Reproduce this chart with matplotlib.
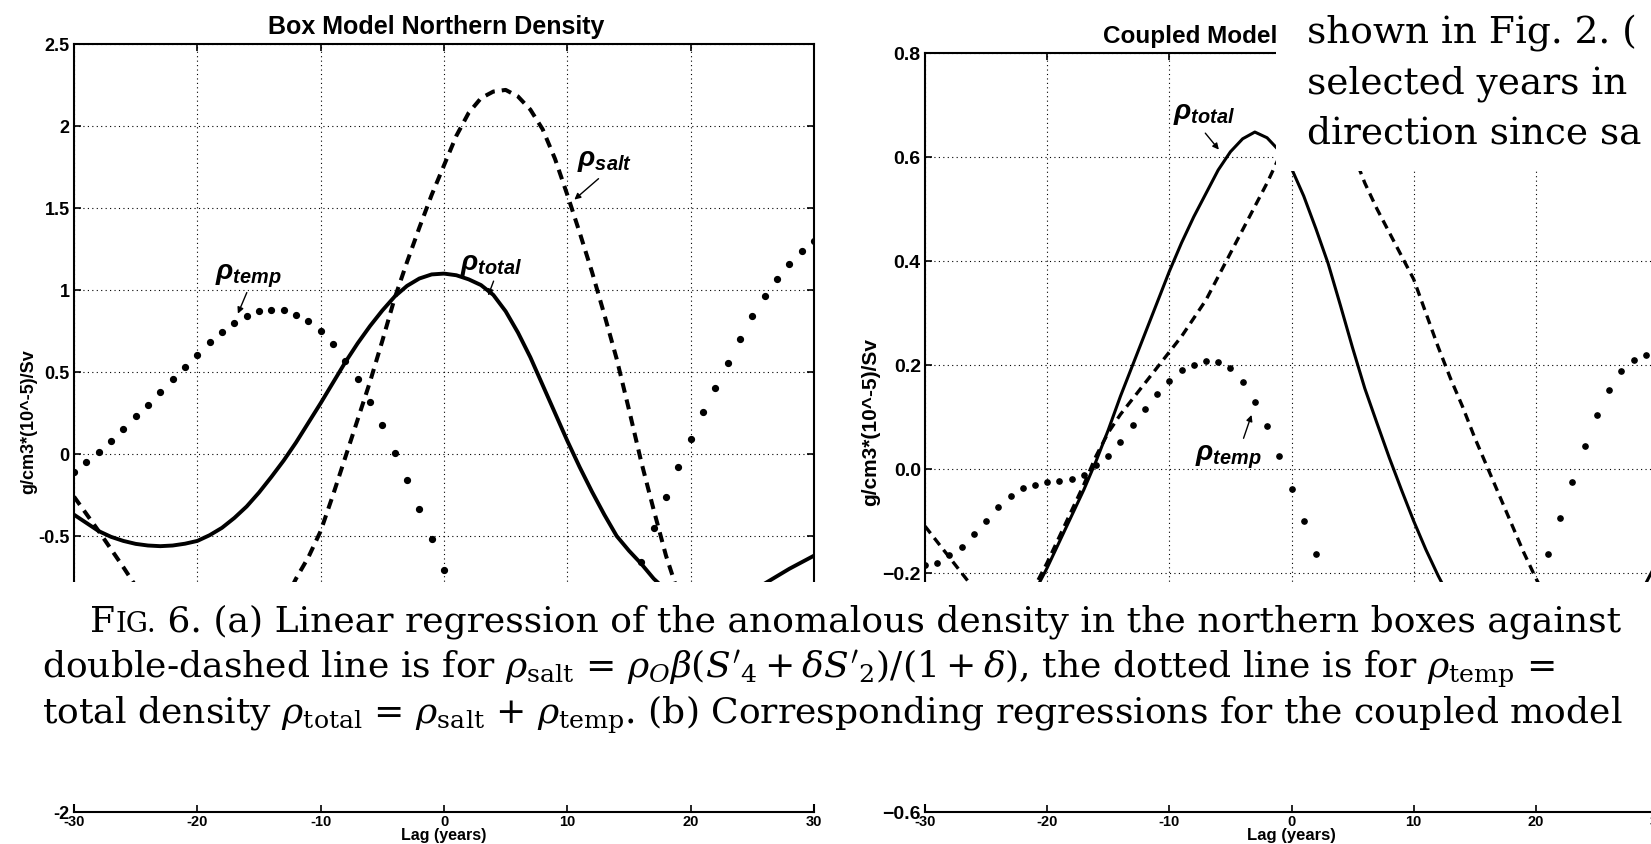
import matplotlib.pyplot as plt
from matplotlib.patches import Rectangle

W, H = 1651, 845

plt.rcParams['font.family'] = 'Liberation Sans'
plt.rcParams['axes.unicode_minus'] = False
plt.rcParams['mathtext.fontset'] = 'custom'
plt.rcParams['mathtext.it'] = 'Liberation Sans:italic:bold'
plt.rcParams['mathtext.rm'] = 'Liberation Sans:bold'
plt.rcParams['mathtext.bf'] = 'Liberation Sans:bold'

lags = list(range(-30, 31))
lag_ticks = [-30, -20, -10, 0, 10, 20, 30]
lag_labels = ['-30', '-20', '-10', '0', '10', '20', '30']

# (a) box model regressions, one value per year of lag
box_salt = [-0.26, -0.365, -0.47, -0.58, -0.69, -0.805, -0.92, -1.025, -1.12, -1.2,
            -1.26, -1.29, -1.30, -1.275, -1.22, -1.14, -1.04, -0.91, -0.76, -0.63,
            -0.47, -0.25, -0.02, 0.21, 0.44, 0.69, 0.95, 1.17, 1.38, 1.58,
            1.76, 1.94, 2.08, 2.17, 2.21, 2.22, 2.18, 2.10, 1.98, 1.80,
            1.58, 1.35, 1.11, 0.85, 0.58, 0.27, -0.05, -0.34, -0.62, -0.85,
            -1.05, -1.23, -1.38, -1.47, -1.52, -1.53, -1.5, -1.43, -1.34, -1.22,
            -1.08]
box_temp = [-0.108, -0.051, 0.01, 0.077, 0.15, 0.23, 0.30, 0.376, 0.457, 0.528,
            0.606, 0.68, 0.744, 0.80, 0.84, 0.87, 0.88, 0.876, 0.85, 0.81,
            0.75, 0.67, 0.57, 0.455, 0.32, 0.175, 0.008, -0.16, -0.335, -0.52,
            -0.71, -0.9, -1.07, -1.22, -1.35, -1.45, -1.52, -1.55, -1.55, -1.52,
            -1.46, -1.37, -1.25, -1.11, -0.96, -0.81, -0.66, -0.45, -0.264, -0.08,
            0.09, 0.254, 0.40, 0.557, 0.70, 0.84, 0.965, 1.065, 1.16, 1.236,
            1.30]
box_total = [-0.37, -0.42, -0.47, -0.505, -0.53, -0.548, -0.558, -0.562, -0.558, -0.547,
             -0.53, -0.495, -0.45, -0.39, -0.32, -0.235, -0.14, -0.04, 0.07, 0.19,
             0.31, 0.435, 0.56, 0.675, 0.78, 0.875, 0.96, 1.025, 1.07, 1.095,
             1.10, 1.09, 1.065, 1.03, 0.97, 0.87, 0.74, 0.59, 0.42, 0.25,
             0.08, -0.08, -0.23, -0.37, -0.50, -0.59, -0.67, -0.76, -0.83, -0.89,
             -0.93, -0.95, -0.95, -0.935, -0.90, -0.85, -0.79, -0.745, -0.70, -0.66,
             -0.62]
box_yticks = [-2, -1.5, -1, -0.5, 0, 0.5, 1, 1.5, 2, 2.5]
box_ylabels = ['-2', '-1.5', '-1', '-0.5', '0', '0.5', '1', '1.5', '2', '2.5']

# (b) coupled model regressions
cpl_salt = [-0.11, -0.14, -0.17, -0.2, -0.23, -0.255, -0.27, -0.27, -0.255, -0.225,
            -0.18, -0.13, -0.08, -0.03, 0.025, 0.07, 0.105, 0.135, 0.165, 0.195,
            0.225, 0.255, 0.29, 0.325, 0.37, 0.415, 0.46, 0.505, 0.55, 0.6,
            0.645, 0.68, 0.7, 0.69, 0.66, 0.61, 0.55, 0.5, 0.455, 0.41,
            0.365, 0.3, 0.235, 0.175, 0.12, 0.06, 0.005, -0.05, -0.105, -0.16,
            -0.21, -0.255, -0.295, -0.33, -0.355, -0.37, -0.375, -0.37, -0.355, -0.33,
            -0.3]
cpl_temp = [-0.185, -0.18, -0.165, -0.15, -0.125, -0.1, -0.073, -0.052, -0.037, -0.03,
            -0.025, -0.023, -0.02, -0.011, 0.008, 0.025, 0.052, 0.085, 0.115, 0.144,
            0.17, 0.19, 0.2, 0.208, 0.205, 0.194, 0.167, 0.129, 0.083, 0.025,
            -0.038, -0.1, -0.163, -0.23, -0.29, -0.33, -0.36, -0.4, -0.43, -0.46,
            -0.48, -0.49, -0.49, -0.48, -0.47, -0.45, -0.42, -0.38, -0.34, -0.29,
            -0.23, -0.163, -0.094, -0.025, 0.044, 0.104, 0.152, 0.188, 0.21, 0.22,
            0.225]
cpl_total = [-0.55, -0.56, -0.56, -0.545, -0.52, -0.48, -0.43, -0.375, -0.315, -0.235,
             -0.19, -0.14, -0.09, -0.04, 0.015, 0.075, 0.14, 0.2, 0.26, 0.32,
             0.38, 0.435, 0.485, 0.53, 0.575, 0.61, 0.635, 0.648, 0.637, 0.612,
             0.578, 0.525, 0.462, 0.395, 0.315, 0.233, 0.155, 0.088, 0.022, -0.04,
             -0.1, -0.155, -0.205, -0.25, -0.295, -0.335, -0.37, -0.4, -0.425, -0.44,
             -0.45, -0.452, -0.447, -0.433, -0.41, -0.38, -0.345, -0.305, -0.265, -0.22,
             -0.175]
cpl_yticks = [-0.6, -0.4, -0.2, 0, 0.2, 0.4, 0.6, 0.8]
cpl_ylabels = ['\u22120.6', '\u22120.4', '\u22120.2', '0.0', '0.2', '0.4', '0.6', '0.8']

fig = plt.figure(figsize=(W / 100, H / 100), dpi=100)


def px_axes(x0, x1, y_top, y_bot):
    return fig.add_axes([x0 / W, 1 - y_bot / H, (x1 - x0) / W, (y_bot - y_top) / H])


def style(ax, yticks, ylabels, fs, grid=True):
    ax.set_xlim(-30, 30)
    ax.set_xticks(lag_ticks)
    ax.set_xticklabels(lag_labels, fontsize=10.5, fontweight='bold')
    ax.set_yticks(yticks)
    ax.set_yticklabels(ylabels, fontsize=fs, fontweight='bold')
    if grid:
        ax.grid(True, color='black', linestyle=(0, (1, 3)), linewidth=0.8)
    ax.tick_params(direction='in', length=5, width=1.2, top=grid, right=True)
    ax.tick_params(axis='y', pad=3)
    ax.tick_params(axis='x', pad=1.5, labelbottom=not grid)
    for s in ax.spines.values():
        s.set_linewidth(1.5)


def arrow(ax, start, end):
    ax.annotate('', xy=end, xytext=start,
                arrowprops=dict(arrowstyle='-|>', lw=1.0, color='black', mutation_scale=9))


label_kw = dict(fontsize=20.5, math_fontfamily='custom', va='baseline', ha='left')
ylab = 'g/cm3*(10^-5)/Sv'

# ---- (a) Box model: plotting area plus the strip holding the bottom axis
ax1 = px_axes(74, 814, 45, 600)
ax1b = px_axes(74, 814, 789, 813)
for ax in (ax1, ax1b):
    style(ax, box_yticks, box_ylabels, 13, grid=ax is ax1)
    ax.plot(lags, box_total, color='black', lw=2.8)
    ax.plot(lags, box_salt, color='black', lw=2.9, dashes=(2.5, 1.75))
    ax.plot(lags, box_temp, 'o', color='black', ms=4.2, ls='none')
ax1.set_ylim(2.5 - 555 / 164, 2.5)
ax1b.set_ylim(-2, -2 + 24 / 164)
ax1.set_title('Box Model Northern Density', fontsize=18, fontweight='bold', pad=8, x=0.49)
ax1b.set_xlabel('Lag (years)', fontsize=11.5, fontweight='bold', labelpad=-1)
ax1.set_ylabel(ylab, fontsize=13, fontweight='bold')
ax1.yaxis.set_label_coords(-0.049, 0.322)
ax1.text(-18.6, 1.07, r'$\rho_{temp}$', **label_kw)
arrow(ax1, (-15.9, 1.0), (-16.8, box_temp[lags.index(-17)] + 0.04))
ax1.text(10.8, 1.76, r'$\rho_{salt}$', **label_kw)
arrow(ax1, (12.7, 1.69), (10.4, 1.54))
ax1.text(1.3, 1.13, r'$\rho_{total}$', **label_kw)
arrow(ax1, (4.1, 1.07), (3.5, 0.95))

# ---- (b) Coupled model
ax2 = px_axes(925, 1658, 54, 600)
ax2b = px_axes(925, 1658, 789, 813)
for ax in (ax2, ax2b):
    style(ax, cpl_yticks, cpl_ylabels, 14, grid=ax is ax2)
    ax.plot(lags, cpl_total, color='black', lw=2.2)
    ax.plot(lags, cpl_salt, color='black', lw=2.4, dashes=(2.7, 1.8))
    ax.plot(lags, cpl_temp, 'o', color='black', ms=3.8, ls='none')
ax2.set_ylim(0.8 - 546 / 520, 0.8)
ax2b.set_ylim(-0.6, -0.6 + 24 / 520)
ax2.set_title('Coupled Model', fontsize=17.5, fontweight='bold', pad=8, loc='left', x=0.243)
ax2b.set_xlabel('Lag (years)', fontsize=12, fontweight='bold', labelpad=-0.5)
ax2.set_ylabel(ylab, fontsize=15, fontweight='bold')
ax2.yaxis.set_label_coords(-0.061, 0.326)
ax2.text(-9.7, 0.675, r'$\rho_{total}$', **label_kw)
arrow(ax2, (-7.2, 0.65), (-5.8, 0.61))
ax2.text(-7.9, 0.019, r'$\rho_{temp}$', **label_kw)
arrow(ax2, (-4.0, 0.054), (-3.2, cpl_temp[lags.index(-3)] - 0.02))

# page text laid over the figure
fig.add_artist(Rectangle((0, 1 - 805 / H), 1, (805 - 583) / H, transform=fig.transFigure,
                         facecolor='white', edgecolor='none', zorder=2))
fig.add_artist(Rectangle((1276 / W, 1 - 172 / H), (W - 1276) / W, 172 / H,
                         transform=fig.transFigure, facecolor='white', edgecolor='none', zorder=2))

serif = dict(family='DejaVu Serif', math_fontfamily='dejavuserif', va='baseline', ha='left',
             zorder=5)
r = fig.canvas.get_renderer()

y1 = 1 - 632 / H
t = fig.text(90 / W, y1, 'F', fontsize=26, **serif)
x = t.get_window_extent(r).x1
t = fig.text(x / W, y1, 'IG.', fontsize=20, **serif)
x = t.get_window_extent(r).x1
fig.text(x / W, y1, ' 6. (a) Linear regression of the anomalous density in the northern boxes against',
         fontsize=26, **serif)
fig.text(42 / W, 1 - 678 / H,
         r"double-dashed line is for $\rho_{\rm salt}$ = $\rho_O\beta(S'_4 + \delta S'_2)/(1 + \delta)$, the dotted line is for $\rho_{\rm temp}$ =",
         fontsize=26, **serif)
fig.text(42 / W, 1 - 724 / H,
         r'total density $\rho_{\rm total}$ = $\rho_{\rm salt}$ + $\rho_{\rm temp}$. (b) Corresponding regressions for the coupled model',
         fontsize=26, **serif)

for yb, line in zip([43, 93, 143], ['shown in Fig. 2. (', 'selected years in', 'direction since sa']):
    fig.text(1307 / W, 1 - yb / H, line, fontsize=27, **serif)

fig.savefig('out.png', dpi=100)
